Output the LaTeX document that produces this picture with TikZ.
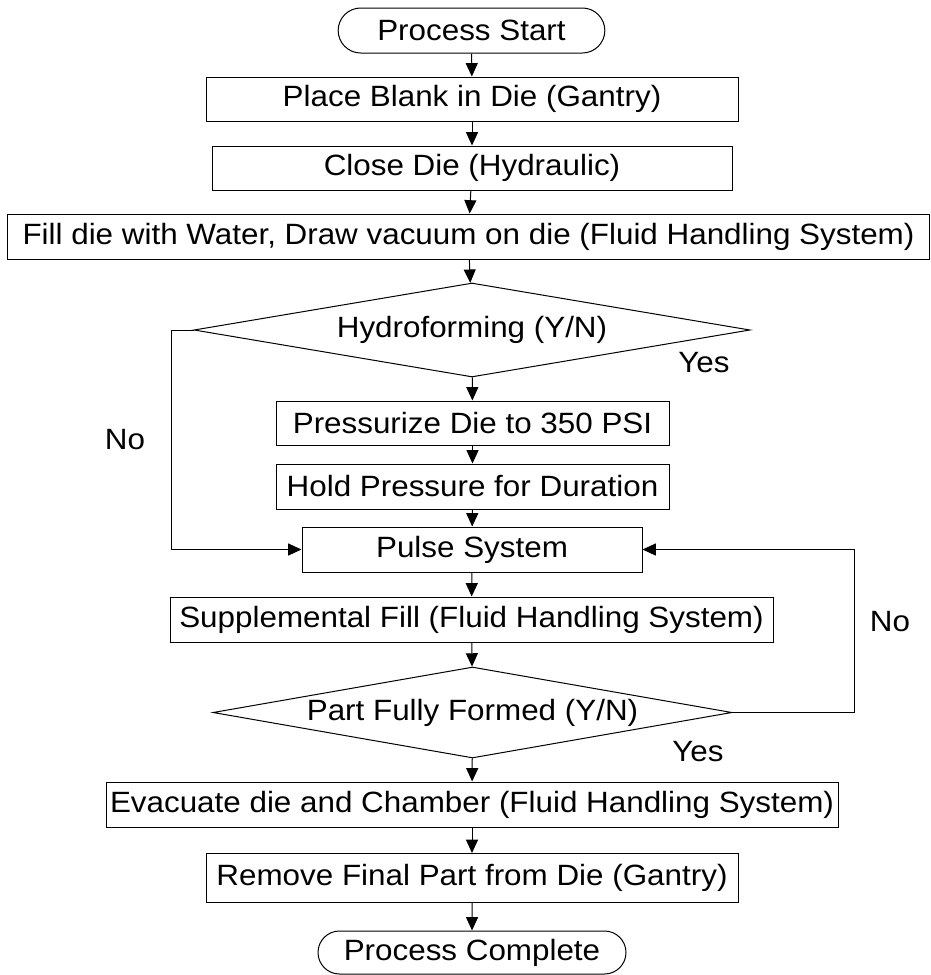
\documentclass[tikz,border=0pt]{standalone}
\usepackage{fontspec}
\setmainfont{Liberation Sans}[FakeStretch=1.07]
\usetikzlibrary{shapes}
\usetikzlibrary{arrows.meta}

\begin{document}
\begin{tikzpicture}[x=0.75pt, y=-0.75pt, line width=0.75pt,
	every node/.style={draw, inner sep=0pt, font=\fontsize{22}{26}\selectfont},
	box/.style={rectangle},
	term/.style={rounded rectangle},
	ask/.style={diamond, aspect=5.9},
	lbl/.style={draw=none},
	arr/.style={-{Triangle[length=10pt, width=9pt]}}]
			
			\useasboundingbox (0,0) rectangle (931,975);
			
			\node[term, minimum width=200pt, minimum height=33.75pt] (n1) at (471.5, 30.5) {Process Start};
			\node[box, minimum width=399pt, minimum height=33pt] (n2) at (472, 99) {Place Blank in Die (Gantry)};
			\node[box, minimum width=390pt, minimum height=33pt] (n3) at (472, 168) {Close Die (Hydraulic)};
			\node[box, minimum width=691.5pt, minimum height=33.75pt] (n4) at (468.5, 236.5) {Fill die with Water, Draw vacuum on die (Fluid Handling System)};
			\node[ask, minimum width=417pt, minimum height=70.5pt] (n5) at (472, 330) {Hydroforming (Y/N)};
			\node[box, minimum width=294.75pt, minimum height=33pt] (n6) at (472.5, 423) {Pressurize Die to 350 PSI};
			\node[box, minimum width=294.75pt, minimum height=33.75pt] (n7) at (472.5, 486.5) {Hold Pressure for Duration};
			\node[box, minimum width=255pt, minimum height=33.75pt] (n8) at (472, 549.5) {Pulse System};
			\node[box, minimum width=452.25pt, minimum height=33.75pt] (n9) at (471.5, 619.5) {Supplemental Fill (Fluid Handling System)};
			\node[ask, minimum width=389.25pt, minimum height=68.25pt] (n10) at (472.5, 712.5) {Part Fully Formed (Y/N)};
			\node[box, minimum width=549pt, minimum height=33.75pt] (n11) at (472, 804.5) {Evacuate die and Chamber (Fluid Handling System)};
			\node[box, minimum width=399pt, minimum height=36.75pt] (n12) at (472, 878) {Remove Final Part from Die (Gantry)};
			\node[term, minimum width=231pt, minimum height=32.25pt] (n13) at (472, 952.5) {Process Complete};
			
			% branch labels
			\node[lbl] (y1) at (704, 363) {Yes};
			\node[lbl] (no1) at (125, 440) {No};
			\node[lbl] (no2) at (890, 622) {No};
			\node[lbl] (y2) at (698, 752) {Yes};
			
			% main line
			\draw[arr] (n1) -- (n2);
			\draw[arr] (n2) -- (n3);
			\draw[arr] (n3) -- (n4);
			\draw[arr] (n4) -- (n5);
			% yes branch of n5
			\draw[arr] (n5) -- (n6);
			\draw[arr] (n6) -- (n7);
			\draw[arr] (n7) -- (n8);
			% no branch of n5
			\draw[arr] (n5.west) -- ++(-22, 0) |- (n8.west);
			
			\draw[arr] (n8) -- (n9);
			\draw[arr] (n9) -- (n10);
			% no branch of n10
			\draw[arr] (n10.east) -- ++(122, 0) |- (n8.east);
			% yes branch of n10
			\draw[arr] (n10) -- (n11);
			\draw[arr] (n11) -- (n12);
			\draw[arr] (n12) -- (n13);
		\end{tikzpicture}
\end{document}
